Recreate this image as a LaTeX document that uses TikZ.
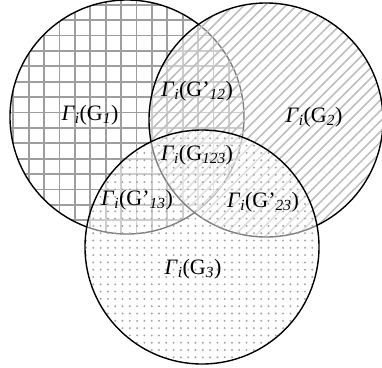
\documentclass[tikz,border=0pt]{standalone}
\usepackage{fontspec}
\setmainfont{Liberation Serif}
\newcommand{\gset}[1]{\textit{Γ}\textsubscript{\textit{i}}(G#1)}
\newcommand{\gidx}[1]{\textsubscript{\textit{#1}}}
\tikzset{
  rim/.style={line width=1.4pt,black},
  gridline/.style={line width=1.8pt,black!38},
  hatchline/.style={line width=1.6pt,black!25},
  veil/.style={fill=white,fill opacity=0.5},
  lbl/.style={font=\fontsize{22}{22}\selectfont,inner sep=0pt}
}
\begin{document}
\begin{tikzpicture}[x=1pt,y=-1pt]
\useasboundingbox (0,0) rectangle (382,367);
\coordinate (c1) at (127,117);
\coordinate (c2) at (266,120);
\coordinate (c3) at (202,247);
\begin{scope}
\clip (c1) circle[radius=117pt];
\foreach \k in {0,...,16}
  \draw[gridline] ({-2.1+15.4*\k},0) -- ++(0,240);
\foreach \k in {0,...,15}
  \draw[gridline] (0,{4.6+15.4*\k}) -- ++(250,0);
\end{scope}
\draw[rim] (c1) circle[radius=117pt];
\begin{scope}
\clip (c2) circle[radius=117pt];
\fill[veil] (c2) circle[radius=117pt];
\foreach \k in {0,...,48}
  \draw[hatchline] ({-90+10.5*\k},245) -- ++(245,-245);
\end{scope}
\draw[rim] (c2) circle[radius=117pt];
\begin{scope}
\clip (c3) circle[radius=117pt];
\fill[veil] (c3) circle[radius=117pt];
\foreach \i in {0,...,33}
  \foreach \j in {0,...,33}
    \fill[black!35] ({86+7.3*\i},{131+7.3*\j}) circle[radius=1.1pt];
\end{scope}
\draw[rim] (c3) circle[radius=117pt];
\node[lbl] (g1) at (90,115) {\gset{\gidx{1}}};
\node[lbl] (g2) at (314,117) {\gset{\gidx{2}}};
\node[lbl] (g3) at (193,269) {\gset{\gidx{3}}};
\node[lbl] (g12) at (197,91) {\gset{’\gidx{12}}};
\node[lbl] (g123) at (197,155) {\gset{\gidx{123}}};
\node[lbl] (g13) at (137,200) {\gset{’\gidx{13}}};
\node[lbl] (g23) at (263,202) {\gset{’\gidx{23}}};
\end{tikzpicture}
\end{document}
